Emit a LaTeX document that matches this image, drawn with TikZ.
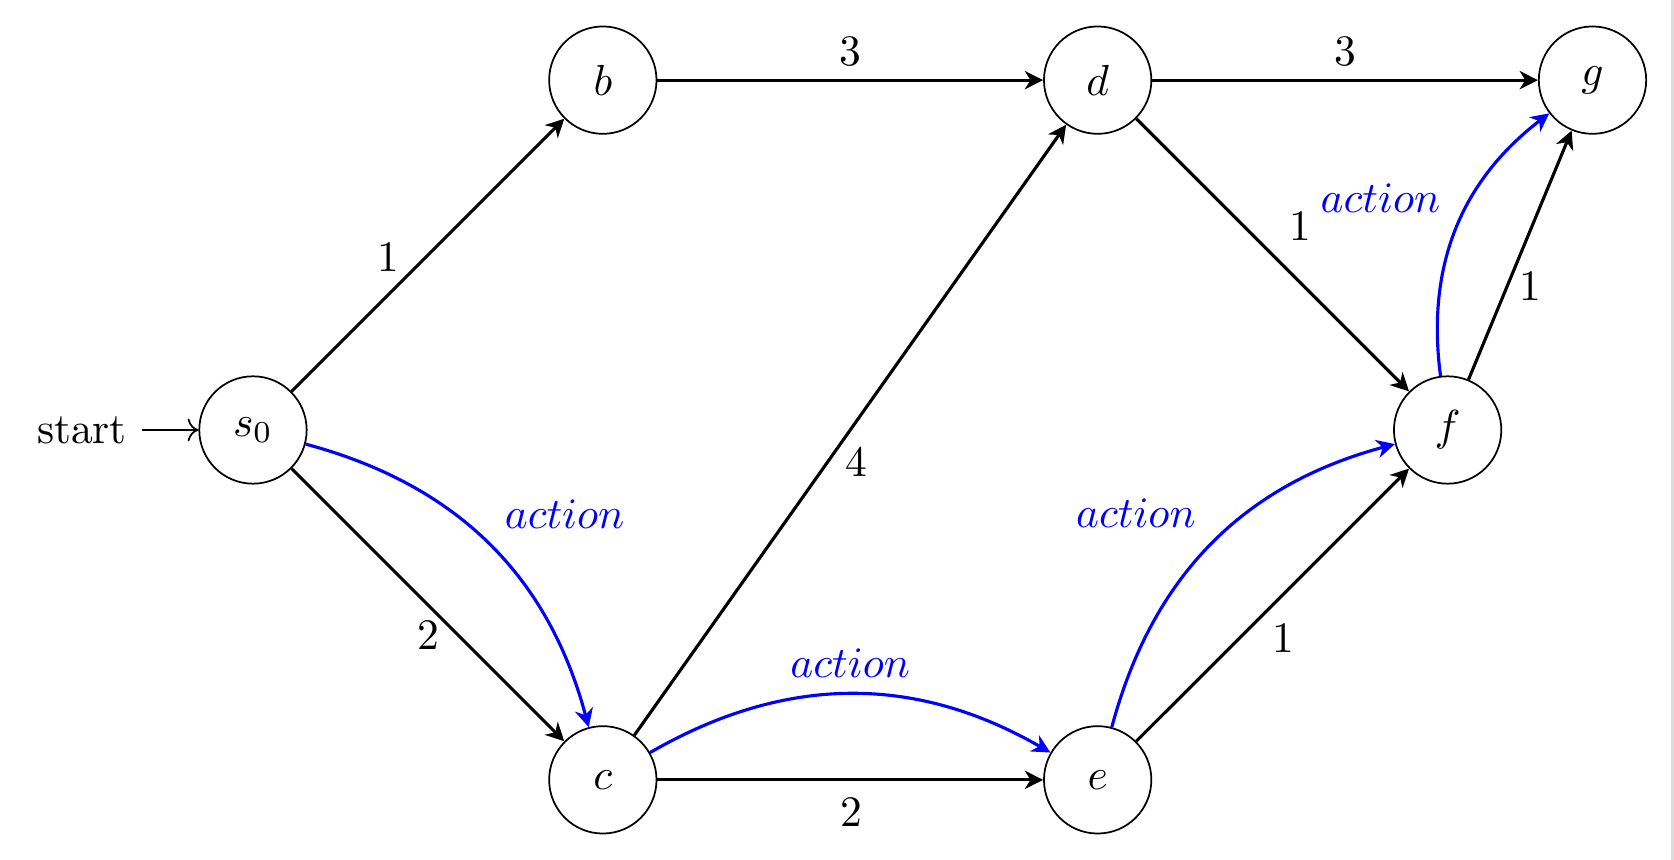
\documentclass[tikz,border=0pt]{standalone}
\usetikzlibrary{automata,arrows.meta,positioning}
\begin{document}
\begin{tikzpicture}[
  stnode/.style={state, draw, line width=0.4pt, minimum size=0.868cm, inner sep=0pt},
  edge/.style={line width=0.72pt, -{Stealth[length=4.2pt,width=4.2pt,inset=1.3pt]}},
  act/.style={edge, blue},
  lbl/.style={inner sep=0pt},
  albl/.style={text=blue},
  initial text=start
]
\useasboundingbox (-2.045,-3.476) rectangle (11.487,3.476);
\fill[black!14] (11.459,-3.476) rectangle (11.487,3.476);

\node[stnode, initial] (s0) at (0,0) {$s_0$};
\node[stnode] (b) at (2.828,2.828) {$b$};
\node[stnode] (d) at (6.828,2.828) {$d$};
\node[stnode] (g) at (10.828,2.828) {$g$};
\node[stnode] (c) at (2.828,-2.828) {$c$};
\node[stnode] (e) at (6.828,-2.828) {$e$};
\node[stnode] (f) at (9.657,0) {$f$};

\draw[edge] (s0) -- node[lbl, xshift=-9.1pt, yshift=-0.35pt] {1} (b);
\draw[edge] (s0) -- node[lbl, xshift=0.1pt, yshift=-7.0pt] {2} (c);
\draw[edge] (b) -- node[lbl, yshift=6.7pt] {3} (d);
\draw[edge] (d) -- node[lbl, yshift=6.7pt] {3} (g);
\draw[edge] (c) -- node[lbl, xshift=1.5pt, yshift=-7.4pt] {4} (d);
\draw[edge] (c) -- node[lbl, xshift=0.3pt, yshift=-7.3pt] {2} (e);
\draw[edge] (d) -- node[lbl, xshift=6.3pt, yshift=6.6pt] {1} (f);
\draw[edge] (e) -- node[lbl, xshift=2.4pt, yshift=-7.5pt] {1} (f);
\draw[edge] (f) -- node[lbl, xshift=2.3pt, yshift=-7.2pt] {1} (g);

\draw[act] (s0) to[bend left=30] node[albl, above right] {$action$} (c);
\draw[act] (c) to[bend left=30] node[albl, above] {$action$} (e);
\draw[act] (e) to[bend left=30] node[albl, above left] {$action$} (f);
\draw[act] (f) to[bend left=30] node[albl, above left] {$action$} (g);
\end{tikzpicture}
\end{document}
